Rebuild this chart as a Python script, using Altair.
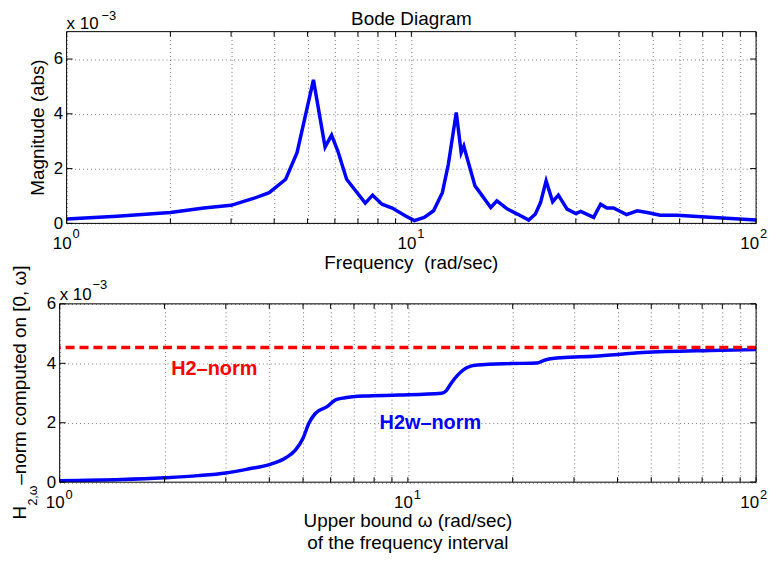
import altair as alt
import pandas as pd

FONT = "Liberation Sans"

# ---------------- data (values in units of 1e-3) ----------------
top_freq = [1.0, 1.4, 2.0, 2.5, 3.0, 3.5, 3.87, 4.32, 4.66, 5.2, 5.62, 5.87, 6.12, 6.49,
            7.35, 7.72, 8.22, 8.8, 9.6, 10.2, 10.9, 11.6, 12.3, 12.8, 13.5, 13.95, 14.2,
            14.5, 15.3, 17.0, 17.7, 19.0, 20.3, 21.9, 22.9, 23.7, 24.6, 25.7, 26.7, 28.3,
            30.0, 31.0, 33.8, 35.4, 36.9, 38.6, 42.1, 45.2, 48.3, 52.7, 58.9, 73.4, 100.0]
top_mag = [0.16, 0.26, 0.40, 0.56, 0.66, 0.92, 1.12, 1.61, 2.58, 5.24, 2.79, 3.22, 2.64, 1.61,
           0.74, 1.03, 0.70, 0.56, 0.28, 0.10, 0.22, 0.46, 1.12, 2.15, 4.05, 2.58, 2.82,
           2.40, 1.37, 0.58, 0.82, 0.52, 0.34, 0.12, 0.34, 0.76, 1.55, 0.79, 1.03, 0.52,
           0.36, 0.44, 0.22, 0.70, 0.56, 0.56, 0.32, 0.46, 0.40, 0.30, 0.30, 0.22, 0.12]

bot_freq = [1.0, 1.5, 2.0, 2.5, 3.0, 3.5, 4.0, 4.46, 4.76, 5.0, 5.2, 5.43, 5.86, 6.2, 6.6,
            7.5, 9.4, 12.5, 12.9, 13.3, 13.9, 14.8, 15.8, 19.8, 23.5, 24.6, 27.5, 34.2,
            47.3, 73.7, 100.0]
bot_h2 = [0.05, 0.09, 0.15, 0.22, 0.31, 0.45, 0.59, 0.82, 1.09, 1.48, 1.99, 2.32, 2.54, 2.77,
          2.84, 2.90, 2.93, 2.99, 3.08, 3.32, 3.60, 3.86, 3.94, 3.99, 4.01, 4.10, 4.19, 4.24,
          4.36, 4.43, 4.46]

h2_norm = [4.53]

log_ticks = [1, 2, 3, 4, 5, 6, 7, 8, 9, 10, 20, 30, 40, 50, 60, 70, 80, 90, 100]
y_ticks = [0, 2, 4, 6]
decades = [1, 10, 100]
decade_base = ["10", "10", "10"]
decade_exp = ["0", "1", "2"]

# ---------------- layout ----------------
W = 701          # both panels share the group width
X0_TOP = 7       # the upper plot box starts 7px right of the lower one
H1 = 193
H2 = 179.5
TITLE = 19

top_df = pd.DataFrame({"f": top_freq, "m": top_mag})
bot_df = pd.DataFrame({"f": bot_freq, "m": bot_h2})
xt_df = pd.DataFrame({"f": log_ticks})
yt_df = pd.DataFrame({"m": y_ticks})
lab_df = pd.DataFrame({"f": decades, "base": decade_base, "exp": decade_exp})
norm_df = pd.DataFrame({"m": h2_norm})
ann_red = pd.DataFrame({"f": [2.78], "m": [3.80], "t": ["H2–norm"]})
ann_blue = pd.DataFrame({"f": [11.6], "m": [2.0], "t": ["H2w–norm"]})
one = pd.DataFrame({"a": [0]})

GRID = "#777777"


def label(text, x, y, size=TITLE, align="left", angle=None, weight="normal", color="black"):
    kw = dict(align=align, baseline="alphabetic", font=FONT, fontSize=size,
              fontWeight=weight, color=color, text=text)
    if angle is not None:
        kw["angle"] = angle
    return alt.Chart(one).mark_text(**kw).encode(x=alt.value(x), y=alt.value(y))


def panel(df, ymax, x0, H, interp):
    xsc = alt.Scale(type="log", domain=[1, 100], range=[x0, W], nice=False)
    ysc = alt.Scale(domain=[0, ymax], nice=False)
    xax = alt.Axis(values=log_ticks, grid=True, gridDash=[1, 3], gridColor=GRID, gridWidth=1,
                   labels=False, ticks=False, domain=False, title=None)
    yax = alt.Axis(values=y_ticks, grid=True, gridDash=[1, 3], gridColor=GRID, gridWidth=1,
                   ticks=False, domain=False, labelFont=FONT, labelFontSize=17,
                   labelColor="black", labelPadding=4, title=None, offset=-x0)

    def X():
        return alt.X("f:Q", scale=xsc, axis=xax)

    def Y():
        return alt.Y("m:Q", scale=ysc, axis=yax)

    line = alt.Chart(df).mark_line(color="#0000ff", strokeWidth=3.5, clip=True,
                                   interpolate=interp).encode(x=X(), y=Y())
    marks = [
        # inward ticks
        alt.Chart(xt_df).mark_rule(color="black").encode(x=X(), y=alt.value(H), y2=alt.value(H - 5)),
        alt.Chart(xt_df).mark_rule(color="black").encode(x=X(), y=alt.value(0), y2=alt.value(5)),
        alt.Chart(yt_df).mark_rule(color="black").encode(y=Y(), x=alt.value(x0), x2=alt.value(x0 + 6)),
        alt.Chart(yt_df).mark_rule(color="black").encode(y=Y(), x=alt.value(W), x2=alt.value(W - 6)),
        # box
        alt.Chart(one).mark_rule(color="black").encode(x=alt.value(x0), y=alt.value(0), y2=alt.value(H)),
        alt.Chart(one).mark_rule(color="black").encode(x=alt.value(W), y=alt.value(0), y2=alt.value(H)),
        alt.Chart(one).mark_rule(color="black").encode(y=alt.value(0), x=alt.value(x0), x2=alt.value(W)),
        alt.Chart(one).mark_rule(color="black").encode(y=alt.value(H), x=alt.value(x0), x2=alt.value(W)),
    ]
    return line, marks, X, Y


def decade_labels(X, H, base_off, exp_off):
    out = []
    for i, shift in enumerate([0, 0, -2]):
        d = lab_df.iloc[[i]]
        out.append(alt.Chart(d).mark_text(align="right", baseline="alphabetic", font=FONT,
                                          fontSize=17, dx=5 + shift, color="black").encode(
            x=X(), y=alt.value(H + base_off), text="base:N"))
        out.append(alt.Chart(d).mark_text(align="left", baseline="alphabetic", font=FONT,
                                          fontSize=13, dx=6 + shift, color="black").encode(
            x=X(), y=alt.value(H + exp_off), text="exp:N"))
    return out


# ---------------- top panel ----------------
x0 = X0_TOP
line1, marks1, X1, Y1 = panel(top_df, 7, x0, H1, "linear")
mid1 = (x0 + W) / 2
top = alt.layer(
    line1, *marks1, *decade_labels(X1, H1, 25.5, 15),
    label("Bode Diagram", mid1, -7, align="center"),
    label("x 10", x0, -3, size=17),
    label("−3", x0 + 35, -12, size=13),
    label("Magnitude (abs)", x0 - 23, H1 / 2, align="center", angle=270),
    label("Frequency\u00a0 (rad/sec)", mid1, H1 + 46, align="center"),
).properties(width=W, height=H1)

# ---------------- bottom panel ----------------
line2, marks2, X2, Y2 = panel(bot_df, 6, 0, H2, "monotone")
rule = alt.Chart(norm_df).mark_rule(color="#ff0000", strokeWidth=3.5, strokeDash=[9, 5]).encode(
    y=Y2())
red_txt = alt.Chart(ann_red).mark_text(font=FONT, fontSize=20, fontWeight="bold",
                                       color="#ff0000", align="center", baseline="middle").encode(
    x=X2(), y=Y2(), text="t:N")
blue_txt = alt.Chart(ann_blue).mark_text(font=FONT, fontSize=20, fontWeight="bold",
                                         color="#0000ff", align="center", baseline="middle").encode(
    x=X2(), y=Y2(), text="t:N")

bottom = alt.layer(
    line2, rule, *marks2, red_txt, blue_txt, *decade_labels(X2, H2, 25.5, 17),
    label("x 10", 0, -4, size=17),
    label("−3", 33, -15, size=13),
    label("H", -34, 217, angle=270),
    label("2,ω", -23, 203, size=12.5, angle=270),
    label("–norm computed on [0, ω]", -34, 182, angle=270),
    label("Upper bound ω (rad/sec)", W / 2, H2 + 45, align="center"),
    label("of the frequency interval", W / 2, H2 + 67, align="center"),
).properties(width=W, height=H2)

chart = alt.vconcat(top, bottom, spacing=81, bounds="flush").properties(
    padding={"left": 2, "top": 0, "right": 0, "bottom": 0}
).configure_view(stroke="transparent", strokeWidth=0)

chart.save("out.html", embed_options={"renderer": "svg", "actions": False})
